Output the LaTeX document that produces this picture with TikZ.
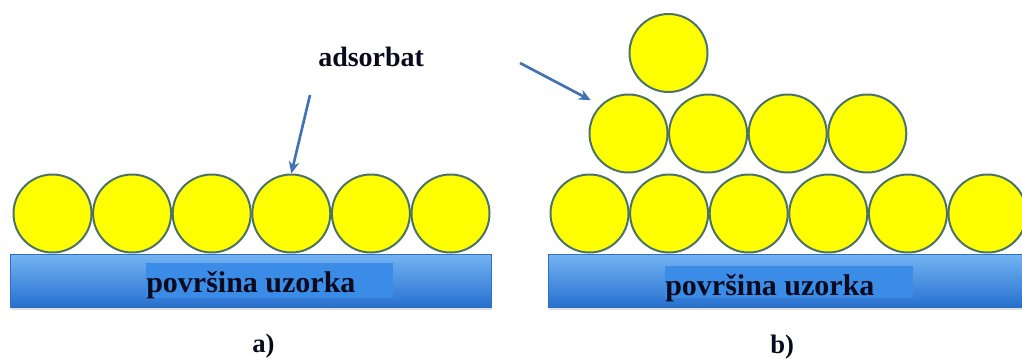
\documentclass[tikz,border=0pt]{standalone}
\usepackage{fontspec}
\setmainfont{Liberation Serif}
\usetikzlibrary{arrows.meta}
\usetikzlibrary{shadows}

\definecolor{ballfill}{RGB}{255,255,0}
\definecolor{balledge}{RGB}{75,115,105}
\definecolor{bartop}{RGB}{115,180,242}
\definecolor{barbottom}{RGB}{40,112,208}
\definecolor{baredge}{RGB}{50,110,190}
\definecolor{labelbg}{RGB}{58,140,230}
\definecolor{arrowblue}{RGB}{65,115,180}
\definecolor{inktext}{RGB}{10,10,30}

\tikzset{
  ball/.style={circle, draw=balledge, line width=1.5pt, fill=ballfill, minimum size=58.5pt, inner sep=0pt},
  substrate/.style={rectangle, draw=baredge, line width=0.6pt, top color=bartop, bottom color=barbottom,
    minimum height=39.75pt, inner sep=0pt, drop shadow={opacity=0.25, shadow xshift=1pt, shadow yshift=-2pt}},
  labelbox/.style={rectangle, fill=labelbg, inner sep=0pt},
  caption/.style={inner sep=0pt, text=inktext, font=\fontsize{20}{24}\selectfont\bfseries},
  bigcaption/.style={caption, font=\fontsize{22.5}{27}\selectfont\bfseries},
  pointer/.style={draw=arrowblue, line width=2pt, -{Stealth[length=9pt, width=8pt]}},
}

\begin{document}
\begin{tikzpicture}[x=0.75pt,y=0.75pt,yscale=-1,xscale=1]
\useasboundingbox (0,0) rectangle (1022,361);

% Left panel: monolayer
\node [substrate, minimum width=360.75pt] (barA) at (250.5,280.5) {};
\node [labelbox, minimum width=185.25pt, minimum height=26.25pt] (boxA) at (269.5,280.5) {};
\node [bigcaption, anchor=base west] (surfA) at (146,292) {površina uzorka};

\node [ball] (a1) at (52.5,213.5) {};
\node [ball] (a2) at (132.1,213.5) {};
\node [ball] (a3) at (211.7,213.5) {};
\node [ball] (a4) at (291.3,213.5) {};
\node [ball] (a5) at (370.9,213.5) {};
\node [ball] (a6) at (450.5,213.5) {};

% Text Node
\node [caption, anchor=base west, font=\fontsize{21}{25}\selectfont\bfseries] (adsorbat) at (318,66.5) {adsorbat};
\coordinate (tailA) at (310,95);
\draw [pointer] (tailA) -- (a4.north);

% Text Node
\node [caption, anchor=base west] (capA) at (252,352) {a)};

% Right panel: multilayer
\node [substrate, minimum width=360pt] (barB) at (788,280.5) {};
\node [labelbox, minimum width=186pt, minimum height=24pt] (boxB) at (789,282) {};
\node [bigcaption, anchor=base west] (surfB) at (665,295) {površina uzorka};

\node [ball] (b11) at (589.5,213.5) {};
\node [ball] (b12) at (669.1,213.5) {};
\node [ball] (b13) at (748.7,213.5) {};
\node [ball] (b14) at (828.3,213.5) {};
\node [ball] (b15) at (907.9,213.5) {};
\node [ball] (b16) at (987.5,213.5) {};

\node [ball] (b21) at (628.5,133.5) {};
\node [ball] (b22) at (708.1,133.5) {};
\node [ball] (b23) at (787.7,133.5) {};
\node [ball] (b24) at (867.3,133.5) {};

\node [ball] (b31) at (668.5,53) {};

\coordinate (tailB) at (520,63);
\draw [pointer, shorten >=8pt] (tailB) -- (b21.north west);

% Text Node
\node [caption, anchor=base west] (capB) at (770,353) {b)};
\end{tikzpicture}
\end{document}
